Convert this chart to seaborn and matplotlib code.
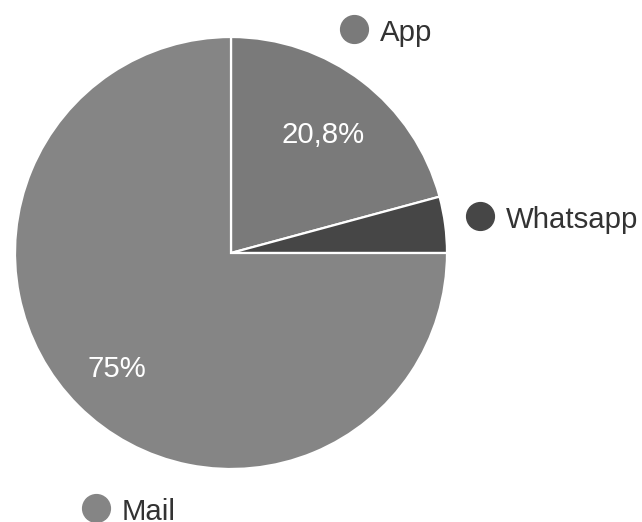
import matplotlib
matplotlib.use("Agg")
import matplotlib.pyplot as plt
import numpy as np
import seaborn as sns

# Share of contact channels
categories = ["App", "Whatsapp", "Mail"]
shares = [20.8, 4.2, 75.0]
pct_labels = ["20,8%", "", "75%"]

sns.set_theme(style="white")
plt.rcParams["font.family"] = ["Liberation Sans", "DejaVu Sans"]

colors = ["#7a7a7a", "#464646", "#858585"]
FS = 21.2
CAP = 0.716 * FS * 100 / 72  # cap height in pixels

W, H = 642, 522
fig = plt.figure(figsize=(W / 100, H / 100), dpi=100)
ax = fig.add_axes([0, 0, 1, 1])

cx, cy, R = 231, H - 253, 216
wedges, _ = ax.pie(
    shares,
    colors=colors,
    startangle=90,
    counterclock=False,
    center=(cx, cy),
    radius=R,
    wedgeprops=dict(edgecolor="white", linewidth=1.6),
    frame=True,
)
ax.set_xlim(0, W)
ax.set_ylim(0, H)
ax.set_aspect("equal")
ax.axis("off")

# Percentage labels inside the slices
dists = [0.70, 0.7, 0.745]
for w, lab, d in zip(wedges, pct_labels, dists):
    if not lab:
        continue
    ang = np.deg2rad((w.theta1 + w.theta2) / 2)
    x = cx + d * R * np.cos(ang)
    y = cy + d * R * np.sin(ang)
    ax.text(x, y - CAP / 2, lab, color="white", fontsize=FS,
            ha="center", va="baseline")

# Legend entries next to the pie
legend_pos = {"App": (354, 29), "Whatsapp": (480, 216), "Mail": (96, 508)}
for name, col in zip(categories, colors):
    x, y = legend_pos[name]
    ax.plot([x], [H - y], "o", ms=20, color=col, mec=col, clip_on=False)
    ax.text(x + 26, H - y - CAP / 2 - 1, name, color="#333333", fontsize=FS,
            ha="left", va="baseline")

fig.savefig("out.png", dpi=100)
